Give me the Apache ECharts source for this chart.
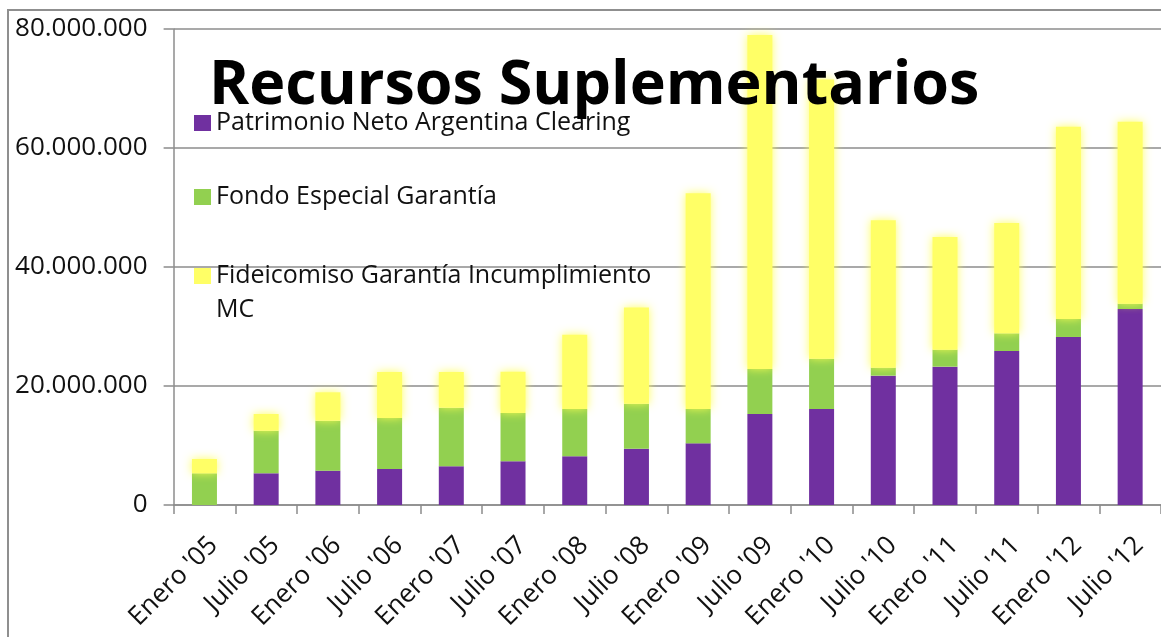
<!DOCTYPE html>
<html>
<head>
<meta charset="utf-8">
<script src="https://cdn.jsdelivr.net/npm/echarts@6/dist/echarts.min.js"></script>
<style>
html,body{margin:0;padding:0;background:#fff;}
#c{width:1161px;height:637px;}
</style>
</head>
<body>
<div id="c"></div>
<script>
const categories = ["Enero '05","Julio '05","Enero '06","Julio '06","Enero '07","Julio '07","Enero '08","Julio '08","Enero '09","Julio '09","Enero '10","Julio '10","Enero '11","Julio '11","Enero '12","Julio '12"];
// values in millions
const patrimonio = [0, 5.33, 5.77, 6.05, 6.5, 7.34, 8.18, 9.47, 10.36, 15.29, 16.13, 21.74, 23.25, 25.88, 28.24, 32.94];
const fondo = [5.33, 7.16, 8.4, 8.57, 9.86, 8.12, 7.95, 7.56, 5.77, 7.57, 8.47, 1.34, 2.85, 2.97, 3.02, 0.89];
const fideicomiso = [2.4, 2.8, 4.77, 7.73, 5.99, 6.94, 12.47, 16.17, 36.27, 56.14, 46.9, 24.77, 18.94, 18.55, 32.32, 30.59];
const seriesNames = ["Patrimonio Neto Argentina Clearing", "Fondo Especial Garantía", "Fideicomiso Garantía Incumplimiento MC"];
const titleText = "Recursos Suplementarios";

const toUnits = arr => arr.map(v => Math.round(v * 1e6));
const fmt = v => String(Math.round(v)).replace(/\B(?=(\d{3})+(?!\d))/g, '.');

const chart = echarts.init(document.getElementById('c'), null, {renderer: 'canvas'});
const FONT = '"Open Sans", "DejaVu Sans", sans-serif';
const axisGray = '#8c8c8c';

chart.setOption({
  backgroundColor: '#ffffff',
  animation: false,
  title: {
    text: titleText,
    left: 204,
    top: 51,
    textStyle: {fontFamily: FONT, fontWeight: 'bold', fontSize: 61, color: '#000'},
    z: 10
  },
  graphic: [{
    type: 'rect',
    shape: {x: 8, y: 10, width: 1170, height: 640},
    style: {fill: 'none', stroke: '#8f8f8f', lineWidth: 2},
    silent: true, z: -1
  }],
  legend: [{
    data: [seriesNames[0], seriesNames[1]],
    orient: 'vertical',
    left: 189,
    top: 103,
    itemWidth: 17,
    itemHeight: 16,
    itemGap: 44,
    icon: 'rect',
    selectedMode: false,
    textStyle: {fontFamily: FONT, fontSize: 25, color: '#111', lineHeight: 30}
  }, {
    data: [seriesNames[2]],
    orient: 'vertical',
    left: 189,
    top: 220,
    itemWidth: 17,
    itemHeight: 16,
    icon: 'rect',
    selectedMode: false,
    formatter: () => ' \nFideicomiso Garantía Incumplimiento\nMC',
    textStyle: {fontFamily: FONT, fontSize: 25, color: '#111', lineHeight: 34}
  }],
  grid: {left: 173.6, top: 29, width: 993.6, height: 476, containLabel: false},
  xAxis: {
    type: 'category',
    data: categories,
    axisLine: {lineStyle: {color: axisGray, width: 1.5}},
    axisTick: {show: true, length: 9, lineStyle: {color: axisGray, width: 1.5}},
    axisLabel: {rotate: 45, fontFamily: FONT, fontSize: 26, color: '#111', margin: 27, interval: 0, verticalAlign: 'top'}
  },
  yAxis: {
    type: 'value',
    min: 0, max: 80000000, interval: 20000000,
    axisLine: {show: true, lineStyle: {color: axisGray, width: 1.5}},
    axisTick: {show: true, length: 10, lineStyle: {color: axisGray, width: 1.5}},
    splitLine: {show: true, lineStyle: {color: axisGray, width: 1.5}},
    axisLabel: {fontFamily: FONT, fontSize: 26, color: '#111', margin: 26, formatter: fmt}
  },
  series: [{
    name: seriesNames[0], type: 'bar', stack: 'total', barWidth: 25,
    itemStyle: {color: '#7030A0'},
    data: toUnits(patrimonio)
  }, {
    name: seriesNames[1], type: 'bar', stack: 'total', barWidth: 25,
    itemStyle: {color: '#92D050'},
    data: toUnits(fondo)
  }, {
    name: seriesNames[2], type: 'bar', stack: 'total', barWidth: 25,
    itemStyle: {color: '#FFFF66', shadowBlur: 10, shadowColor: 'rgba(255,255,80,0.9)'},
    data: toUnits(fideicomiso)
  }]
});
</script>
</body>
</html>
